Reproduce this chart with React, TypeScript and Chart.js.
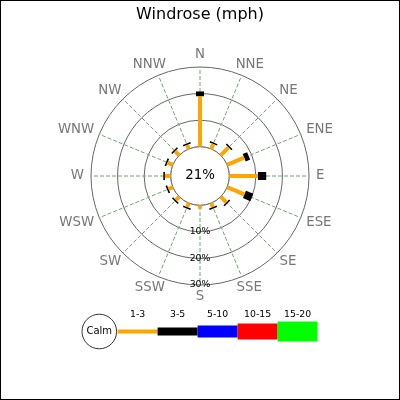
import { useEffect, useRef } from "react";
import { Chart, registerables } from "chart.js";

Chart.register(...registerables);

const FONT = "'DejaVu Sans', sans-serif";

const directions = ["N", "NNE", "NE", "ENE", "E", "ESE", "SE", "SSE", "S", "SSW", "SW", "WSW", "W", "WNW", "NW", "NNW"];
const speedBins = ["1-3", "3-5", "5-10", "10-15", "15-20"];
const binColors = ["#ffa500", "#000000", "#0000ff", "#ff0000", "#00ff00"];
const calmPct = 21;

// share of observations (%) per direction, one list per speed bin (mph)
const pct1to3 = [19.0, 2.0, 4.2, 7.0, 10.8, 7.1, 3.0, 1.6, 1.3, 1.6, 1.8, 1.8, 2.2, 2.2, 2.2, 1.6];
const pct3to5 = [1.8, 0.6, 0.6, 1.8, 3.1, 3.0, 0.6, 0.6, 0, 0.6, 0.6, 0.6, 0.6, 0.6, 0.6, 0.6];
const pct5to10 = [0, 0, 0, 0, 0, 0, 0, 0, 0, 0, 0, 0, 0, 0, 0, 0];
const pct10to15 = [0, 0, 0, 0, 0, 0, 0, 0, 0, 0, 0, 0, 0, 0, 0, 0];
const pct15to20 = [0, 0, 0, 0, 0, 0, 0, 0, 0, 0, 0, 0, 0, 0, 0, 0];
const ringTicks = [0, 10, 20, 30];

const series = [pct1to3, pct3to5, pct5to10, pct10to15, pct15to20];
const barWidths = [4, 8, 12, 16, 20];
const gridColor = "#666666";

const roseDecor = {
  id: "roseDecor",
  beforeDatasetsDraw(chart: any) {
    const s = chart.scales.r;
    const ctx = chart.ctx;
    const r0 = s.getDistanceFromCenterForValue(0);
    ctx.save();
    ctx.beginPath();
    ctx.arc(s.xCenter, s.yCenter, r0, 0, Math.PI * 2);
    ctx.fillStyle = "#ffffff";
    ctx.fill();
    ctx.strokeStyle = gridColor;
    ctx.lineWidth = 1;
    ctx.stroke();
    ctx.restore();
  },
  afterDatasetsDraw(chart: any) {
    const s = chart.scales.r;
    const ctx = chart.ctx;
    ctx.save();
    ctx.textAlign = "center";
    ctx.textBaseline = "middle";

    // compass labels, nudged outwards by half their size
    ctx.font = `13.33px ${FONT}`;
    ctx.fillStyle = "#777777";
    const labelRadius = s.getDistanceFromCenterForValue(s.max) + 7;
    directions.forEach((d, i) => {
      const p = s.getPointPosition(i, labelRadius);
      const a = s.getIndexAngle(i);
      const w = ctx.measureText(d).width;
      ctx.fillText(d, p.x + (w / 2) * Math.sin(a), p.y - 5 * Math.cos(a));
    });

    ctx.fillStyle = "#000";
    ctx.fillText(`${calmPct}%`, s.xCenter, s.yCenter);
    ctx.font = `9.33px ${FONT}`;
    ringTicks
      .filter((v) => v > 0)
      .forEach((v) => {
        ctx.fillText(`${v}%`, s.xCenter, s.yCenter + s.getDistanceFromCenterForValue(v));
      });
    ctx.restore();
  },
  afterDraw(chart: any) {
    const ctx = chart.ctx;
    const cx = 98.3;
    const cy = 330.5;
    const rad = 17.3;
    const segLen = 40;
    ctx.save();
    ctx.beginPath();
    ctx.arc(cx, cy, rad, 0, Math.PI * 2);
    ctx.fillStyle = "#fff";
    ctx.fill();
    ctx.strokeStyle = "#333";
    ctx.lineWidth = 1;
    ctx.stroke();
    ctx.fillStyle = "#000";
    ctx.textAlign = "center";
    ctx.textBaseline = "middle";
    ctx.font = `10px ${FONT}`;
    ctx.fillText("Calm", cx, cy);
    ctx.font = `9.33px ${FONT}`;
    speedBins.forEach((label, i) => {
      const x0 = cx + rad + 1 + i * segLen;
      ctx.fillStyle = binColors[i];
      ctx.fillRect(x0, cy - barWidths[i] / 2, segLen, barWidths[i]);
      ctx.fillStyle = "#000";
      ctx.fillText(label, x0 + segLen / 2, 313.5);
    });
    ctx.restore();
  },
};

export default function App() {
  const canvasRef = useRef<HTMLCanvasElement>(null);
  const chartRef = useRef<Chart | null>(null);

  useEffect(() => {
    document.body.style.margin = "0";
    if (!canvasRef.current) return;
    chartRef.current?.destroy();

    const halfLength = (values: number[]) => (c: any) => {
      const s = c.chart.scales.r;
      if (!s) return 0;
      return (values[c.dataIndex] * s.drawingArea) / (s.max - s.min) / 2;
    };

    const datasets = series.map((values, k) => ({
      label: speedBins[k],
      // each bar sits on top of the bins below it; the point marks its middle
      data: values.map((v, j) => {
        let base = 0;
        for (let b = 0; b < k; b++) base += series[b][j];
        return base + v / 2;
      }),
      showLine: false,
      fill: false,
      backgroundColor: "transparent",
      borderColor: "transparent",
      pointStyle: "line" as const,
      pointBorderColor: binColors[k],
      pointBackgroundColor: binColors[k],
      pointBorderWidth: barWidths[k],
      pointHoverBorderWidth: barWidths[k],
      pointRotation: (c: any) => (c.dataIndex * 360) / directions.length - 90,
      pointRadius: halfLength(values),
      pointHoverRadius: halfLength(values),
    }));

    chartRef.current = new Chart(canvasRef.current, {
      type: "radar",
      data: { labels: directions, datasets },
      options: {
        animation: false,
        responsive: true,
        maintainAspectRatio: false,
        events: [],
        layout: { padding: { top: 0, bottom: 114, left: 0, right: 0 } },
        plugins: {
          legend: { display: false },
          tooltip: { enabled: false },
          title: {
            display: true,
            text: "Windrose (mph)",
            color: "#000",
            font: { family: FONT, size: 16, weight: "normal" },
            padding: { top: 4, bottom: 42.8 },
          },
        },
        scales: {
          r: {
            min: -11,
            max: 30,
            afterBuildTicks: (scale: any) => {
              scale.ticks = ringTicks.map((value) => ({ value }));
            },
            ticks: { display: false },
            grid: { circular: true, color: gridColor, lineWidth: 1 },
            angleLines: { color: "#66aa66", lineWidth: 1, borderDash: [4, 2] },
            pointLabels: { display: false },
          },
        },
      },
      plugins: [roseDecor],
    });

    return () => {
      chartRef.current?.destroy();
      chartRef.current = null;
    };
  }, []);

  return (
    <div style={{ width: 400, height: 400, border: "1px solid #000", boxSizing: "border-box", background: "#fff" }}>
      <div style={{ position: "relative", width: 398, height: 398 }}>
        <canvas ref={canvasRef} />
      </div>
    </div>
  );
}
